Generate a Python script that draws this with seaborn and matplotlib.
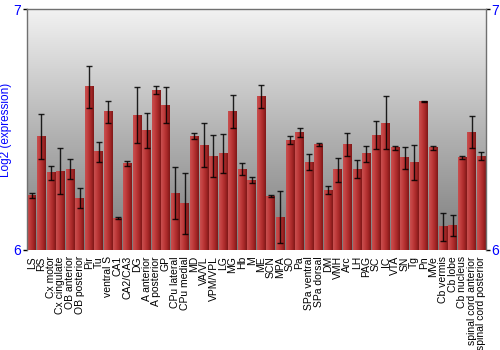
import numpy as np
import pandas as pd
import matplotlib
matplotlib.use("Agg")
import matplotlib.pyplot as plt
import seaborn as sns
from matplotlib.colors import LinearSegmentedColormap

regions = ["LS", "RS", "Cx motor", "Cx cingulate", "OB anterior", "OB posterior", "Pir", "Tu",
           "ventral S", "CA1", "CA2/CA3", "DG", "A anterior", "A posterior", "GP", "CPu lateral",
           "CPu medial", "MD", "VA/VL", "VPM/VPL", "LG", "MG", "Hb", "M", "ME", "SCN", "MPA", "SO",
           "Pa", "SPa ventral", "SPa dorsal", "DM", "VMH", "Arc", "LH", "PAG", "SC", "IC", "VTA",
           "SN", "Tg", "Pn", "MVe", "Cb vermis", "Cb lobe", "Cb nucleus", "spinal cord anterior",
           "spinal cord posterior"]
expression = [6.226, 6.471, 6.321, 6.328, 6.335, 6.215, 6.678, 6.408,
              6.574, 6.133, 6.358, 6.561, 6.496, 6.665, 6.603, 6.235,
              6.192, 6.474, 6.436, 6.390, 6.400, 6.574, 6.336, 6.290, 6.6375, 6.224, 6.135, 6.457,
              6.4875, 6.365, 6.439, 6.249, 6.333, 6.4375, 6.336, 6.400, 6.478, 6.528, 6.425,
              6.383, 6.3625, 6.618, 6.425, 6.097, 6.100, 6.383, 6.489,
              6.389]
error = [0.010, 0.094, 0.030, 0.095, 0.042, 0.042, 0.088, 0.041,
         0.046, 0.003, 0.010, 0.117, 0.074, 0.016, 0.074, 0.108,
         0.126, 0.014, 0.091, 0.086, 0.082, 0.069, 0.024, 0.013, 0.048, 0.004, 0.108, 0.016,
         0.018, 0.033, 0.007, 0.018, 0.051, 0.047, 0.039, 0.033, 0.057, 0.110, 0.008,
         0.047, 0.073, 0.003, 0.008, 0.058, 0.044, 0.006, 0.067,
         0.017]
y_ticks = [6, 7]

df = pd.DataFrame({"region": regions, "expression": expression, "error": error})

sns.set_style("white")
plt.rcParams["font.family"] = ["Liberation Sans", "DejaVu Sans"]

fig = plt.figure(figsize=(5, 3.5), dpi=100)
ax = fig.add_axes([0.054, 0.286, 0.918, 0.687])

# background gradient
bg = LinearSegmentedColormap.from_list("bg", ["#7c7c7c", "#b4b4b4", "#f2f2f2"])
grad = np.linspace(0, 1, 256).reshape(-1, 1)
ax.imshow(grad, cmap=bg, aspect="auto", extent=[0, 1, 0, 1], transform=ax.transAxes,
          origin="lower", zorder=0)

sns.barplot(data=df, x="region", y="expression", color="#b83232", width=0.92,
            errorbar=None, ax=ax, zorder=2, edgecolor="none")

ax.set_ylim(6, 7)
ax.set_xlim(-0.5, len(regions) - 0.5)
ymin = 6

# cylinder gradient on each bar
barcm = LinearSegmentedColormap.from_list("bar", ["#c85050", "#c03c3c", "#a82828", "#7e1818"])
hgrad = np.linspace(0, 1, 64).reshape(1, -1)
for p in list(ax.patches):
    x0, w = p.get_x(), p.get_width()
    top = p.get_y() + p.get_height()
    ax.imshow(hgrad, cmap=barcm, aspect="auto", extent=[x0, x0 + w, ymin, top],
              zorder=2.5, interpolation="bicubic")

ax.errorbar(x=np.arange(len(regions)), y=df["expression"], yerr=df["error"], fmt="none",
            ecolor="black", elinewidth=1.0, capsize=2.5, capthick=1.0, alpha=0.85, zorder=4)

ax.set_xlim(-0.5, len(regions) - 0.5)
ax.set_ylim(6, 7)
ax.set_aspect("auto")

ax.set_yticks(y_ticks)
ax.set_yticklabels([str(t) for t in y_ticks])
ax.tick_params(axis="y", which="both", left=True, right=True, labelleft=True, labelright=True,
               length=3, width=1, color="black", labelcolor="blue", labelsize=10, pad=1)
ax.tick_params(axis="x", bottom=False, labelsize=7.5, pad=1, rotation=90)
for lbl in ax.get_xticklabels():
    lbl.set_color("black")

ax.set_xlabel("")
ax.set_ylabel("Log2 (expression)", color="blue", fontsize=8.5, labelpad=1)

for side in ["left", "right", "top"]:
    ax.spines[side].set_visible(True)
    ax.spines[side].set_color("#707070")
    ax.spines[side].set_linewidth(1)
ax.spines["bottom"].set_visible(False)

fig.savefig("out.png", dpi=100)
